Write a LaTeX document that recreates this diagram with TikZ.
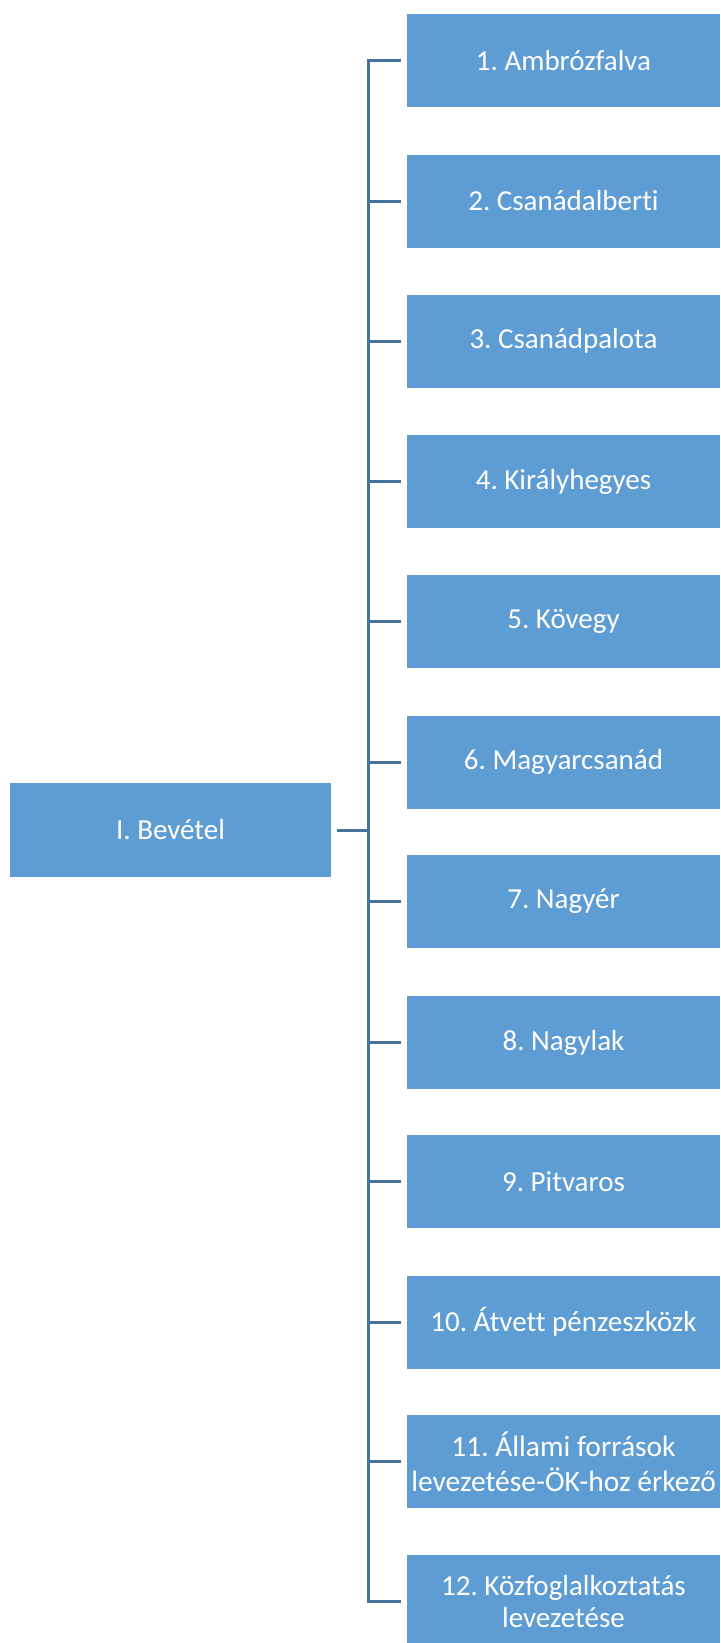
\documentclass[tikz,border=0pt]{standalone}
\usepackage{fontspec}
\setmainfont{Carlito}[Ligatures=NoCommon]
\definecolor{boxblue}{RGB}{94,156,212}
\definecolor{linkblue}{RGB}{68,114,156}
\begin{document}
\frenchspacing
\begin{tikzpicture}[x=1pt,y=-1pt,line width=3pt,draw=linkblue]
	\def \spinex{368}
	\def \colx{563.5}
	\tikzstyle{b-node}=[rectangle,fill=boxblue,text=white,inner sep=0pt,minimum width=313pt,minimum height=93pt,align=center,font=\fontsize{29}{32}\selectfont]
	\tikzstyle{root-node}=[b-node,minimum width=321pt,minimum height=94pt]
	\tikzstyle{wide}=[font=\fontsize{29.5}{35}\selectfont]
	\useasboundingbox (0,0) rectangle (720,1643);
	
	% root
	\node[root-node] 	(bev)	at (170.5,830)		{I. Bevétel};
	\coordinate 	(sb)	at (\spinex,830);
	
	% municipalities
	\node[b-node] 	(n1)	at (\colx,60.5)		{1. Ambrózfalva};
	\node[b-node] 	(n2)	at (\colx,201)		{2. Csanádalberti};
	\node[b-node] 	(n3)	at (\colx,341)		{3. Csanádpalota};
	\node[b-node] 	(n4)	at (\colx,481.5)	{4. Királyhegyes};
	\node[b-node] 	(n5)	at (\colx,621.5)	{5. Kövegy};
	\node[b-node] 	(n6)	at (\colx,762)		{6. Magyarcsanád};
	\node[b-node] 	(n7)	at (\colx,901.5)	{7. Nagyér};
	\node[b-node] 	(n8)	at (\colx,1042.5)	{8. Nagylak};
	\node[b-node] 	(n9)	at (\colx,1181.5)	{9. Pitvaros};
	\node[b-node] 	(n10)	at (\colx,1322)		{10. Átvett pénzeszközk};
	\node[b-node,wide] 	(n11)	at (\colx,1461.5)	{11. Állami források\\levezetése-ÖK-hoz érkező};
	\node[b-node] 	(n12)	at (\colx,1601.5)	{12. Közfoglalkoztatás\\levezetése};
	
	% spine
	\coordinate 	(s1)	at (\spinex,60.5);
	\coordinate 	(s12)	at (\spinex,1601.5);
	
	\path[line cap=rect]
		(s1)	edge	(s12)
		(bev)	edge[shorten <=6pt]	(sb);
	\path[shorten >=5pt]
		(s1)	edge	(n1)
		(s12)	edge	(n12)
		(\spinex,201)	edge	(n2)
		(\spinex,341)	edge	(n3)
		(\spinex,481.5)	edge	(n4)
		(\spinex,621.5)	edge	(n5)
		(\spinex,762)	edge	(n6)
		(\spinex,901.5)	edge	(n7)
		(\spinex,1042.5)	edge	(n8)
		(\spinex,1181.5)	edge	(n9)
		(\spinex,1322)	edge	(n10)
		(\spinex,1461.5)	edge	(n11);
		
\end{tikzpicture}
\end{document}
